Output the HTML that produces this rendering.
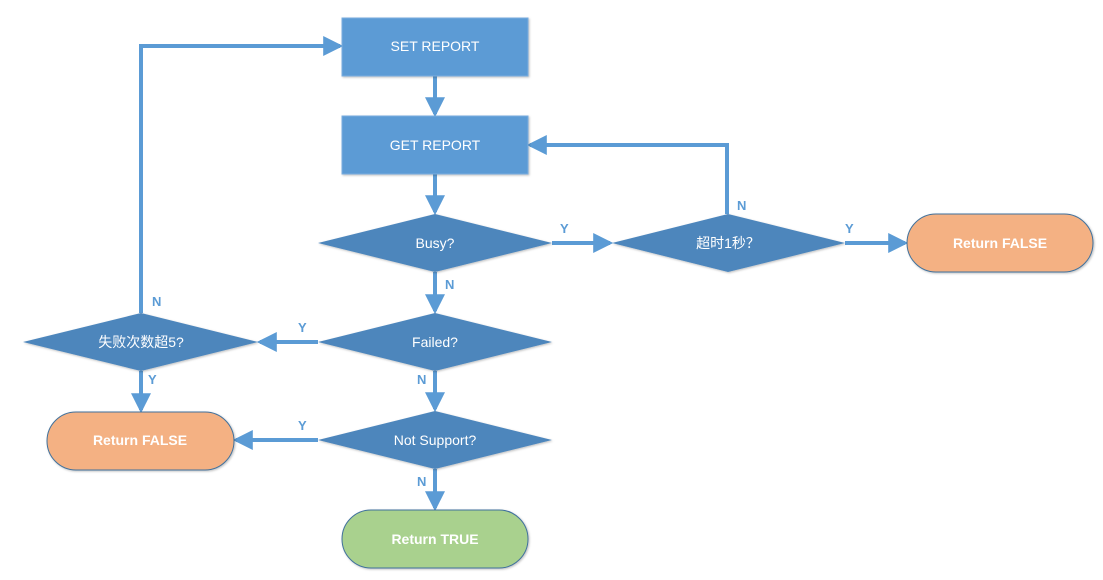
<!DOCTYPE html>
<html><head><meta charset="utf-8"><style>body{margin:0;background:#fff}svg{display:block}</style></head><body>
<svg width="1103" height="580" xmlns="http://www.w3.org/2000/svg" font-family="Liberation Sans, Noto Sans CJK SC, sans-serif">
<defs><marker id="a" markerWidth="5" markerHeight="5" refX="4.2" refY="2.5" orient="auto" markerUnits="strokeWidth"><path d="M0,0 L5,2.5 L0,5 z" fill="#5b9bd5"/></marker>
<filter id="s"><feDropShadow dx="1" dy="1" stdDeviation="1" flood-opacity="0.25"/></filter></defs>
<g stroke="#5b9bd5" stroke-width="4" fill="none">
<path d="M435,76 V114" marker-end="url(#a)"/>
<path d="M435,174 V212" marker-end="url(#a)"/>
<path d="M435,272 V311" marker-end="url(#a)"/>
<path d="M435,371 V409" marker-end="url(#a)"/>
<path d="M435,469 V508" marker-end="url(#a)"/>
<path d="M552,243 H610" marker-end="url(#a)"/>
<path d="M845,243 H905" marker-end="url(#a)"/>
<path d="M727,214 V145 H530" marker-end="url(#a)"/>
<path d="M318,342 H260" marker-end="url(#a)"/>
<path d="M141,313 V46 H340" marker-end="url(#a)"/>
<path d="M141,371 V410" marker-end="url(#a)"/>
<path d="M318,440 H236" marker-end="url(#a)"/>
</g>
<g filter="url(#s)">
<rect x="342" y="18" width="186" height="58" fill="#5b9bd5" stroke="#7aaee0"/>
<rect x="342" y="116" width="186" height="58" fill="#5b9bd5" stroke="#7aaee0"/>
<polygon points="318,243 435,214 552,243 435,272" fill="#4e86bc"/>
<polygon points="612,243 728,214 845,243 728,272" fill="#4e86bc"/>
<polygon points="318,342 435,313 552,342 435,371" fill="#4e86bc"/>
<polygon points="23,342 141,313 258,342 141,371" fill="#4e86bc"/>
<polygon points="318,440 435,411 552,440 435,469" fill="#4e86bc"/>
<rect x="907" y="214" width="186" height="58" rx="29" fill="#f4b183" stroke="#41719c"/>
<rect x="47" y="412" width="187" height="58" rx="29" fill="#f4b183" stroke="#41719c"/>
<rect x="342" y="510" width="186" height="58" rx="29" fill="#a9d18e" stroke="#41719c"/>
</g>
<g fill="#fff" font-size="14" text-anchor="middle">
<text x="435" y="51">SET REPORT</text>
<text x="435" y="150">GET REPORT</text>
<text x="435" y="248">Busy?</text>
<text x="728" y="248">超时1秒？</text>
<text x="435" y="347">Failed?</text>
<text x="141" y="347">失败次数超5?</text>
<text x="435" y="445">Not Support?</text>
<g font-weight="bold"><text x="1000" y="248">Return FALSE</text>
<text x="140" y="445">Return FALSE</text>
<text x="435" y="544">Return TRUE</text></g>
</g>
<g fill="#5b9bd5" font-size="13" font-weight="bold">
<text x="445" y="289">N</text><text x="560" y="233">Y</text><text x="737" y="210">N</text>
<text x="845" y="233">Y</text><text x="298" y="332">Y</text><text x="152" y="306">N</text>
<text x="148" y="384">Y</text><text x="417" y="384">N</text><text x="298" y="430">Y</text>
<text x="417" y="486">N</text>
</g>
</svg>
</body></html>
